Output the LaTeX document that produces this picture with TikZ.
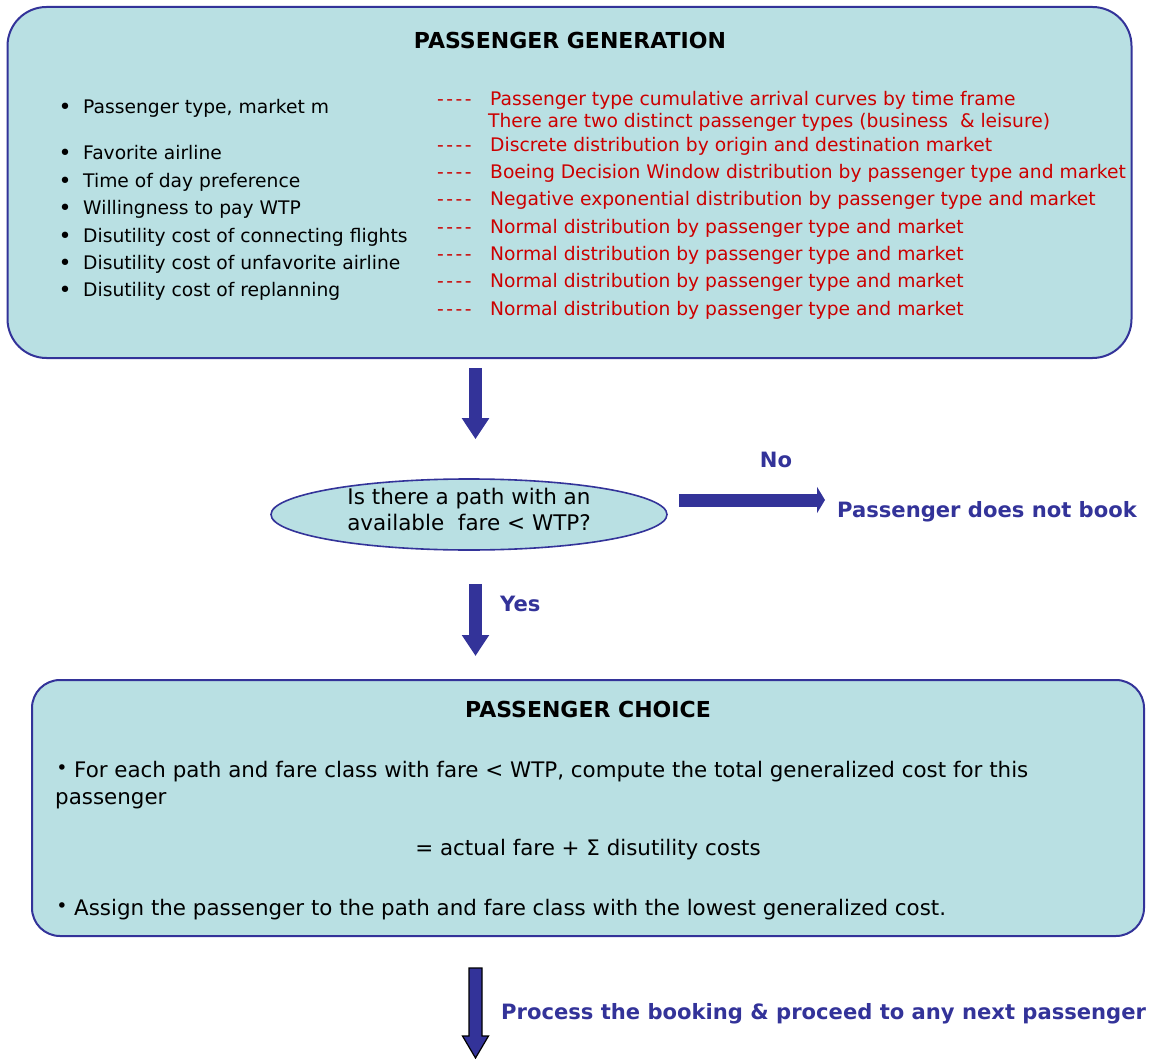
\documentclass[tikz,border=0pt]{standalone}
\usepackage{fontspec}
\setmainfont{DejaVu Sans}
\usetikzlibrary{shapes.geometric,arrows.meta,calc}
\definecolor{panelfill}{HTML}{B9E0E3}
\definecolor{navy}{HTML}{333399}
\definecolor{distred}{HTML}{CC0000}
\begin{document}
\begin{tikzpicture}[x=1pt,y=-1pt,
  panel/.style={draw=navy, line width=2pt, fill=panelfill, inner sep=0pt},
  txt/.style={inner sep=0pt, text height=0.73em, text depth=0pt, yshift=-4pt},
  item/.style={txt, anchor=west, font=\fontsize{18.7}{22}\selectfont},
  dist/.style={item, text=distred},
  dot/.style={txt, text height=, text depth=, font=\fontsize{22}{22}\selectfont},
  smalldot/.style={txt, text height=, text depth=, font=\fontsize{19}{22}\selectfont},
  note/.style={txt, anchor=west, font=\fontsize{21.4}{26}\selectfont},
  heading/.style={txt, font=\bfseries\fontsize{22}{26}\selectfont},
  navylabel/.style={txt, anchor=west, text=navy, font=\bfseries\fontsize{21.1}{26}\selectfont},
  flow/.style={draw=navy, line width=13pt, -{Triangle[width=26pt,length=21pt]}},
  outlinedflow/.style={fill=navy, draw=black, line width=1.2pt, line join=miter}
]
\useasboundingbox (0,0) rectangle (1151,1059);

% ---------- passenger generation panel ----------
\node[panel, rounded corners=39pt, minimum width=1124pt, minimum height=351pt]
  (gen) at (569.5,182.5) {};
\node[heading] (genTitle) at (570,41) {PASSENGER GENERATION};

\foreach \y/\txt [count=\i] in {
    106/{Passenger type, market m},
    152/{Favorite airline},
    180/{Time of day preference},
    207/{Willingness to pay WTP},
    235/{Disutility cost of connecting flights},
    262/{Disutility cost of unfavorite airline},
    289/{Disutility cost of replanning}} {
  \node[dot] (b\i) at (65,\y-1) {•};
  \node[item] (attr\i) at (83,\y) {\txt};
}

\foreach \y/\txt [count=\i] in {
    98/{Passenger type cumulative arrival curves by time frame},
    144/{Discrete distribution by origin and destination market},
    171/{Boeing Decision Window distribution by passenger type and market},
    198/{Negative exponential distribution by passenger type and market},
    226/{Normal distribution by passenger type and market},
    253/{Normal distribution by passenger type and market},
    280/{Normal distribution by passenger type and market},
    308/{Normal distribution by passenger type and market}} {
  \node[dist] (dash\i) at (437,\y) {-\kern2.5pt-\kern2.5pt-\kern2.5pt-};
  \node[dist] (law\i) at (490,\y) {\txt};
}
\node[dist] (lawTypes) at (488,120) {There are two distinct passenger types (business\ \ \&\ leisure)};

% ---------- decision ----------
\node[ellipse, draw=navy, line width=1.6pt, fill=panelfill, inner sep=0pt,
  minimum width=396pt, minimum height=71pt] (q) at (469,514.5) {};
\node[align=center, inner sep=0pt, font=\fontsize{21.5}{26}\selectfont] (qText) at (469,509.5)
  {Is there a path with an\\available\ \ fare < WTP?};

\node[navylabel, anchor=center] (no) at (776,460) {No};
\node[navylabel] (nobook) at (837,510) {Passenger does not book};
\node[navylabel] (yes) at (500,604) {Yes};

% ---------- passenger choice panel ----------
\node[panel, rounded corners=28pt, minimum width=1112pt, minimum height=256pt]
  (choice) at (588,808) {};
\node[heading] (choiceTitle) at (588,710) {PASSENGER CHOICE};
\node[smalldot] (c1) at (62,766) {•};
\node[note] (rule1) at (74,770) {For each path and fare class with fare < WTP, compute the total generalized cost for this};
\node[note] (rule1b) at (55,797) {passenger};
\node[note, anchor=center] (costsum) at (588,848) {= actual fare + Σ disutility costs};
\node[smalldot] (c2) at (62,904) {•};
\node[note] (rule2) at (74,908) {Assign the passenger to the path and fare class with the lowest generalized cost.};

\node[navylabel] (proceed) at (501,1012) {Process the booking \& proceed to any next passenger};

% ---------- connectors ----------
\draw[flow] ($(gen.south -| q.north)+(6.5,9)$) -- ($(q.north)+(6.5,-39)$);
\draw[flow, -{Triangle[width=26pt,length=8pt]}]
  ($(q.east)+(11,-14.5)$) -- ($(nobook.west |- q.east)+(-12,-14.5)$);
\draw[flow] ($(q.south)+(6.5,33)$) -- ($(choice.north -| q.south)+(6.5,-23)$);

\coordinate (ps) at ($(choice.south -| q.south)+(6.5,31)$);
\coordinate (nextpax) at ($(ps)+(0,90)$);
\draw[outlinedflow] ($(ps)+(-6.5,0)$) -- ($(ps)+(6.5,0)$) -- ($(ps)+(6.5,68)$)
  -- ($(ps)+(13,68)$) -- (nextpax) -- ($(ps)+(-13,68)$) -- ($(ps)+(-6.5,68)$) -- cycle;
\end{tikzpicture}
\end{document}
